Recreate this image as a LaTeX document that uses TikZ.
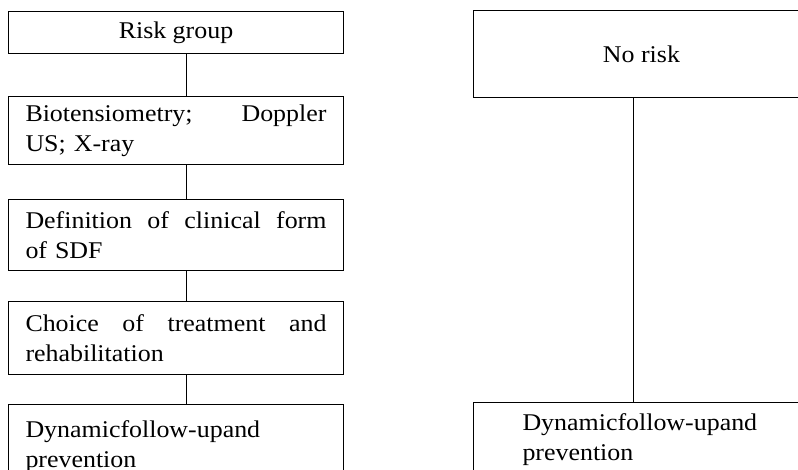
\documentclass[tikz,border=0pt]{standalone}
\usepackage{fontspec}
\setmainfont{Liberation Serif}[FakeStretch=1.08]
\begin{document}
\begin{tikzpicture}[x=1pt,y=1pt,
  box/.style={draw=black, line width=1pt, rectangle, anchor=north west,
    font=\fontsize{24}{30}\selectfont, inner ysep=0pt},
  lbox/.style={box, minimum width=335pt, text width=301pt, inner xsep=17pt, align=left},
  conn/.style={draw=black, line width=1pt}]
\path[use as bounding box] (0,0) rectangle (798,-470);
\clip (0,0) rectangle (798,-470);
% left column
\node[box, minimum width=335pt, minimum height=42pt, align=center] (b1) at (8,-11) {Risk group};
\node[lbox, minimum height=68pt] (b2) at (8,-96) {Biotensiometry;\hfill Doppler\\US; X-ray};
\node[lbox, minimum height=71pt] (b3) at (8,-199) {Definition\hfill of\hfill clinical\hfill form\\of SDF};
\node[lbox, minimum height=73pt] (b4) at (8,-301) {Choice\hfill of\hfill treatment\hfill and\\rehabilitation};
\node[lbox, inner ysep=16.5pt] (b5) at (8,-404) {Dynamicfollow-upand\\prevention};
% right column
\node[box, minimum width=336pt, minimum height=87pt, align=center] (r1) at (473,-10) {No risk};
\node[box, text width=280pt, inner xsep=49pt, inner ysep=11.5pt, align=left] (r2) at (473,-402) {Dynamicfollow-upand\\prevention};
% connectors
\draw[conn] ([xshift=10pt]b1.south) -- ([xshift=10pt]b2.north);
\draw[conn] ([xshift=10pt]b2.south) -- ([xshift=10pt]b3.north);
\draw[conn] ([xshift=10pt]b3.south) -- ([xshift=10pt]b4.north);
\draw[conn] ([xshift=10pt]b4.south) -- ([xshift=10pt]b5.north);
\draw[conn] ([xshift=-8pt]r1.south) -- ([xshift=-8pt]r1.south |- r2.north);
\end{tikzpicture}
\end{document}
